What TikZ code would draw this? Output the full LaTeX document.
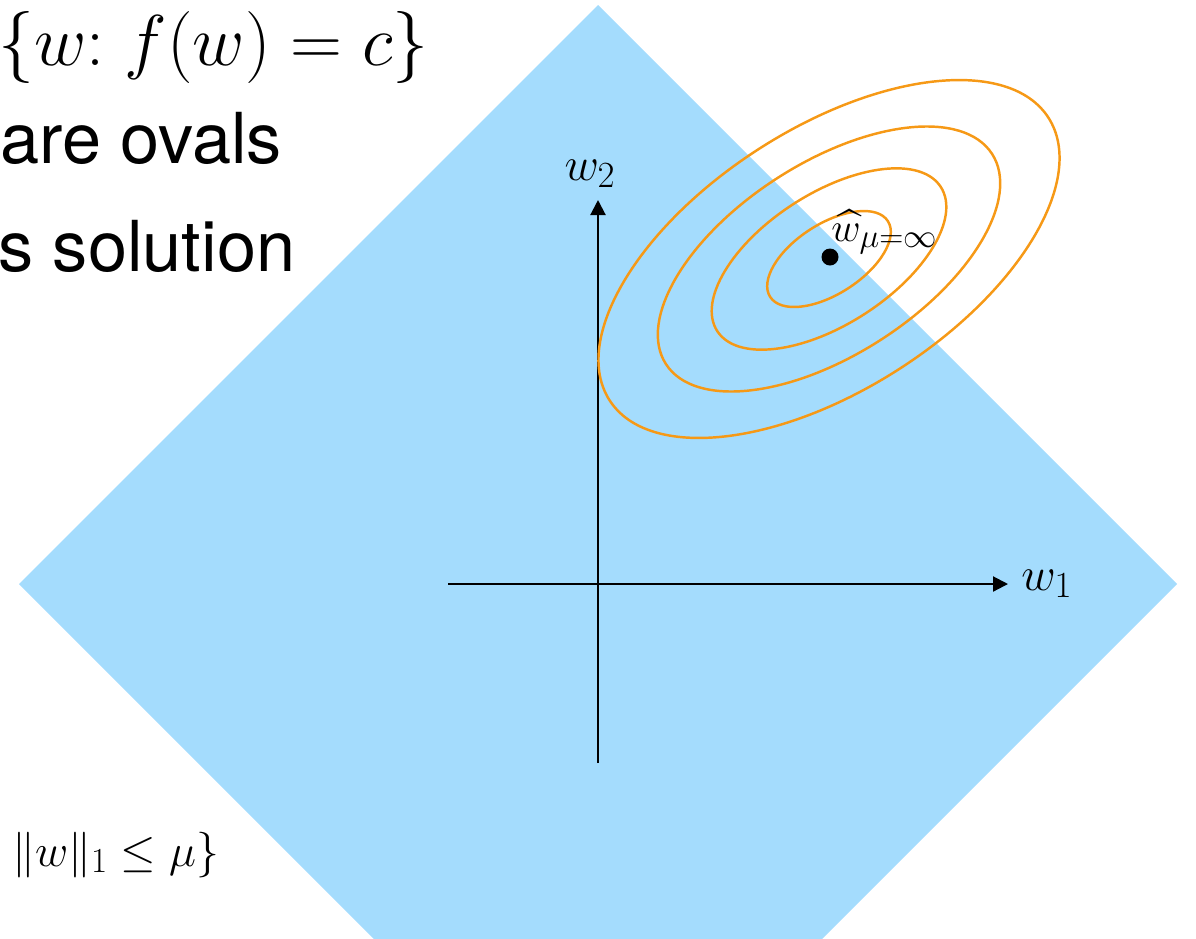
\RequirePackage{fix-cm}
\documentclass[tikz,border=0pt]{standalone}
\usepackage[no-math]{fontspec}
\setmainfont{TeX Gyre Heros}
\usepackage{amsmath}
\usetikzlibrary{arrows.meta}
\definecolor{lonebl}{RGB}{164,220,253}
\definecolor{ovalor}{RGB}{246,153,22}
\newcommand{\bigsub}[2]{\hbox{\fontsize{#1}{#1}\selectfont$#2$}}
\begin{document}
\begin{tikzpicture}[x=0.02cm,y=0.02cm,
  axisline/.style={line width=1.2pt,-{Triangle[length=0.3cm,width=0.3cm]}},
  oval/.style={draw=ovalor,line width=1.4pt},
  slidetext/.style={inner sep=0pt,anchor=base west,font=\fontsize{40}{48}\selectfont},
  mathlabel/.style={inner sep=0pt,font=\fontsize{27}{32}\selectfont}]
\useasboundingbox (0,0) rectangle (1196,-938);
% L1 ball
\begin{scope}
\clip (0,0) rectangle (1196,-938);
\fill[lonebl] (598,-5) -- (1177,-584) -- (598,-1163) -- (19,-584) -- cycle;
\end{scope}
% axes
\coordinate (xl) at (448,-584);
\coordinate (xr) at (1008,-584);
\coordinate (yb) at (598,-763);
\coordinate (yt) at (598,-200);
\draw[axisline] (xl) -- (xr);
\draw[axisline] (yb) -- (yt);
\node[mathlabel,anchor=base west] (wone) at (1021,-590) {$w_{\bigsub{21}{1}}$};
\node[mathlabel,anchor=base] (wtwo) at (590,-180) {$w_{\bigsub{21}{2}}$};
% level sets
\coordinate (c) at (829,-259);
\draw[oval, rotate around={32.8:(c)}] (c) ellipse [x radius=261, y radius=130.5];
\draw[oval, rotate around={32.8:(c)}] (c) ellipse [x radius=194, y radius=96];
\draw[oval, rotate around={32.8:(c)}] (c) ellipse [x radius=133, y radius=65.5];
\draw[oval, rotate around={32.8:(c)}] (c) ellipse [x radius=70, y radius=35];
% unconstrained solution
\fill (830,-257) circle [radius=8.5];
\node[inner sep=0pt,anchor=base west,font=\fontsize{23}{28}\selectfont] (what) at (831,-241)
  {$\widehat{w}_{\bigsub{19}{\mu{=}\infty}}$};
% slide text
\node[slidetext,font=\fontsize{41}{48}\selectfont] (set) at (-2,-65) {$\{w{:}\;f(w) = c\}$};
\node[slidetext] (ovals) at (0,-163) {are ovals};
\node[slidetext] (sol) at (-2,-271) {s solution};
\node[inner sep=0pt,anchor=base west,font=\fontsize{26}{30}\selectfont] (ball) at (12,-866) {$\lVert w\rVert_{\bigsub{20}{1}} \le \mu\}$};
\end{tikzpicture}
\end{document}
